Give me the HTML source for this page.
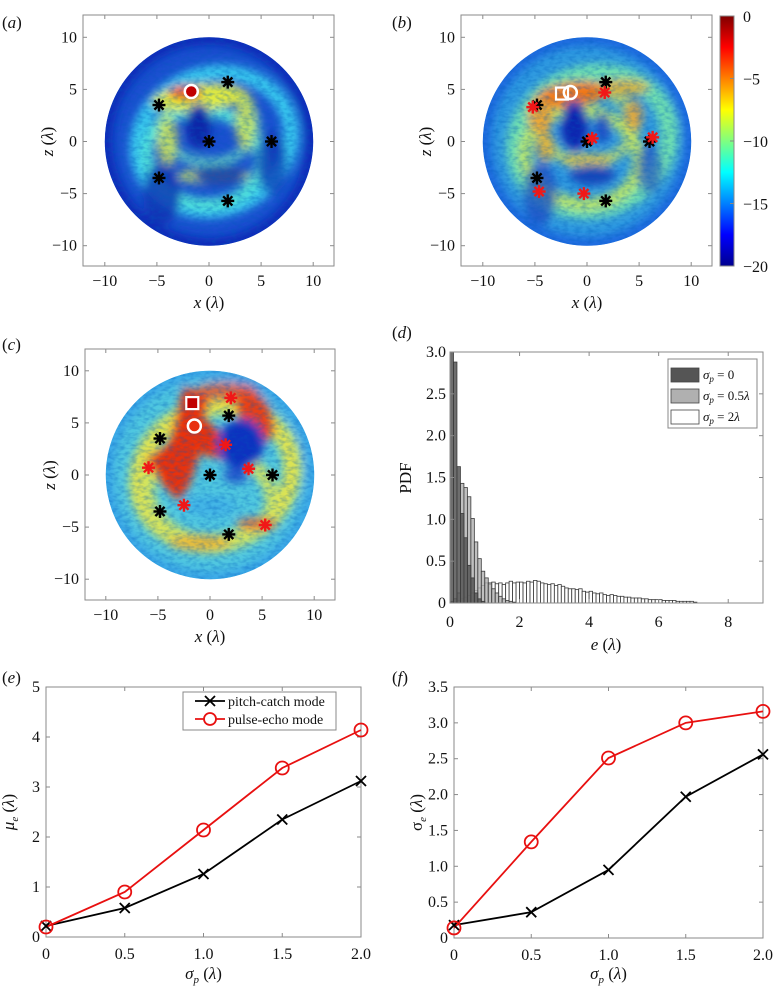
<!DOCTYPE html>
<html><head><meta charset="utf-8">
<style>
html,body{margin:0;padding:0;background:#fff;}
svg{display:block;font-family:"Liberation Serif",serif;}
</style></head>
<body>
<svg id="fig" width="780" height="994" viewBox="0 0 780 994" xmlns="http://www.w3.org/2000/svg">
<defs>
<filter id="blur" x="-20%" y="-20%" width="140%" height="140%"><feGaussianBlur stdDeviation="4.5"/></filter>
<filter id="noise" x="0" y="0" width="100%" height="100%">
<feTurbulence type="fractalNoise" baseFrequency="0.16 0.3" numOctaves="2" seed="3"/>
<feColorMatrix type="matrix" values="0 0 0 0 0  0 0 0 0 0.1  0 0 0 0 0.5  0 0 0 -2.2 1.35"/>
</filter>
<linearGradient id="jet" x1="0" y1="1" x2="0" y2="0">
<stop offset="0" stop-color="#00008f"/><stop offset="0.125" stop-color="#0000ff"/>
<stop offset="0.375" stop-color="#00ffff"/><stop offset="0.625" stop-color="#ffff00"/>
<stop offset="0.875" stop-color="#ff0000"/><stop offset="1" stop-color="#800000"/>
</linearGradient>
</defs>
</svg>
<script>
// ---------- data ----------
const heatTicks = [-10, -5, 0, 5, 10];
const receiversX = [1.8, -4.8, 0, 6, -4.8, 1.8];
const receiversZ = [5.7, 3.5, 0, 0, -3.5, -5.7];
const redBX = [1.7, -5.2, 0.5, 6.3, -4.6, -0.3];
const redBZ = [4.7, 3.3, 0.3, 0.4, -4.8, -5.0];
const redCX = [2.0, 1.5, -5.9, 3.7, -2.5, 5.3];
const redCZ = [7.4, 2.9, 0.7, 0.6, -2.9, -4.8];
const cbTicks = [0, -5, -10, -15, -20];

const binWidth = 0.1;
const pdfSigma0 = [3.0, 2.88, 1.63, 1.07, 0.78, 0.45, 0.3, 0.12, 0.05, 0.02];
const pdfSigma05 = [0.02, 0.05, 0.12, 1.43, 1.38, 1.27, 1.01, 0.73, 0.53, 0.38, 0.3, 0.24, 0.17, 0.12, 0.08, 0.05, 0.03, 0.02, 0.01];
const pdfSigma2 = [0.01,0.02,0.03,0.05,0.07,0.09,0.12,0.15,0.18,0.21,
 0.24,0.22,0.25,0.23,0.24,0.22,0.24,0.26,0.24,0.25,
 0.25,0.24,0.26,0.25,0.27,0.26,0.24,0.23,0.22,0.23,
 0.21,0.22,0.20,0.18,0.17,0.17,0.16,0.17,0.14,0.13,
 0.14,0.12,0.11,0.12,0.10,0.09,0.10,0.09,0.08,0.08,
 0.07,0.07,0.06,0.06,0.06,0.05,0.05,0.04,0.04,0.04,
 0.04,0.03,0.03,0.03,0.03,0.02,0.02,0.02,0.02,0.02,0.01];
const pdfXTicks = [0, 2, 4, 6, 8];
const pdfYTicks = [0, 0.5, 1.0, 1.5, 2.0, 2.5, 3.0];
const pdfYLabels = ["0","0.5","1.0","1.5","2.0","2.5","3.0"];

const sigmaP = [0, 0.5, 1.0, 1.5, 2.0];
const sigmaPLabels = ["0","0.5","1.0","1.5","2.0"];
const muPitch = [0.22, 0.58, 1.26, 2.35, 3.12];
const muPulse = [0.20, 0.90, 2.14, 3.38, 4.14];
const muTicks = [0, 1, 2, 3, 4, 5];
const sdPitch = [0.18, 0.36, 0.95, 1.97, 2.56];
const sdPulse = [0.14, 1.34, 2.51, 3.00, 3.16];
const sdTicks = [0, 0.5, 1.0, 1.5, 2.0, 2.5, 3.0, 3.5];
const sdLabels = ["0","0.5","1.0","1.5","2.0","2.5","3.0","3.5"];

// ---------- helpers ----------
const NS = "http://www.w3.org/2000/svg";
const svg = document.getElementById("fig");
function mk(tag, attrs, parent) {
  const e = document.createElementNS(NS, tag);
  for (const k in attrs) e.setAttribute(k, attrs[k]);
  (parent || svg).appendChild(e);
  return e;
}
function txt(x, y, s, size, anchor, parent, extra) {
  const t = mk("text", Object.assign({x: x, y: y, "font-size": size, "text-anchor": anchor || "middle", fill: "#111"}, extra || {}), parent);
  t.innerHTML = s;
  return t;
}
function lin(d0, d1, r0, r1) { return v => r0 + (v - d0) * (r1 - r0) / (d1 - d0); }

function frame(g, x0, y0, x1, y1) {
  const r = mk("rect", {x: x0, y: y0, width: x1 - x0, height: y1 - y0, fill: "none", stroke: "#8a8a8a", "stroke-width": 1}, g);
  
  
}
function xTicks(g, sx, vals, labels, y0, y1, ly) {
  vals.forEach((v, i) => {
    const x = sx(v);
    mk("line", {x1: x, x2: x, y1: y1, y2: y1 - 4, stroke: "#8a8a8a"}, g);
    mk("line", {x1: x, x2: x, y1: y0, y2: y0 + 4, stroke: "#8a8a8a"}, g);
    const t = txt(x, ly, labels[i], 16, "middle", g);
    
    
  });
}
function yTicks(g, sy, vals, labels, x0, x1, lx) {
  vals.forEach((v, i) => {
    const y = sy(v);
    mk("line", {x1: x0, x2: x0 + 4, y1: y, y2: y, stroke: "#8a8a8a"}, g);
    mk("line", {x1: x1, x2: x1 - 4, y1: y, y2: y, stroke: "#8a8a8a"}, g);
    const t = txt(lx, y + 5, labels[i], 16, "end", g);
    
    
  });
}
function asterisk(g, x, y, color, name) {
  const a = mk("g", {}, g);
  
  
  for (let k = 0; k < 4; k++) {
    const ang = k * Math.PI / 4, L = 6.5;
    mk("line", {x1: x - L * Math.cos(ang), y1: y - L * Math.sin(ang), x2: x + L * Math.cos(ang), y2: y + L * Math.sin(ang), stroke: color, "stroke-width": 2.4}, a);
  }
}
function panelLabel(x, y, letter, name) {
  const t = txt(x, y, "(<tspan font-style='italic'>" + letter + "</tspan>)", 17, "start");
  
  
}

// ---------- heatmap panel ----------
function heatPanel(id, box, cx, cy, feats, base, reds, src) {
  const g = mk("g", {});
  
  
  const s = 10.42;
  const sx = v => cx + v * s, sy = v => cy - v * s;
  const clip = mk("clipPath", {id: "clip" + id}, svg.querySelector("defs"));
  mk("circle", {cx: cx, cy: cy, r: 10 * s}, clip);
  const field = mk("g", {"clip-path": "url(#clip" + id + ")"}, g);
  
  
  mk("circle", {cx: cx, cy: cy, r: 10 * s, fill: base}, field);
  const fg = mk("g", {filter: "url(#blur)"}, field);
  feats.forEach(f => {
    if (f.t === "e") mk("ellipse", {cx: sx(f.x), cy: sy(f.z), rx: f.rx * s, ry: f.ry * s, fill: f.fill || "none", stroke: f.stroke || "none", "stroke-width": (f.w || 0) * s, transform: "rotate(" + (f.rot || 0) + " " + sx(f.x) + " " + sy(f.z) + ")", opacity: f.op || 1}, fg);
    else if (f.t === "p") mk("polygon", {points: f.pts.map((p, i) => i % 2 ? sy(p) : sx(p)).reduce((a, v, i) => a + (i % 2 ? "," : " ") + v, ""), fill: f.fill, opacity: f.op || 1}, fg);
  });
  mk("rect", {x: cx - 10 * s, y: cy - 10 * s, width: 20 * s, height: 20 * s, filter: "url(#noise)", opacity: 0.35}, field);
  frame(g, box[0], box[1], box[2], box[3]);
  xTicks(g, sx, heatTicks, ["\u221210", "\u22125", "0", "5", "10"], box[1], box[3], box[3] + 20);
  yTicks(g, sy, heatTicks, ["\u221210", "\u22125", "0", "5", "10"], box[0], box[2], box[0] - 6);
  const xl = txt(cx, box[3] + 42, "<tspan font-style='italic'>x</tspan> (<tspan font-style='italic'>\u03bb</tspan>)", 17, "middle", g);
  
  
  const yl = txt(0, 0, "<tspan font-style='italic'>z</tspan> (<tspan font-style='italic'>\u03bb</tspan>)", 17, "middle", g, {transform: "translate(" + (box[0] - 30) + "," + cy + ") rotate(-90)"});
  
  
  receiversX.forEach((v, i) => asterisk(g, sx(v), sy(receiversZ[i]), "#000", "receiver-marker"));
  if (reds) reds[0].forEach((v, i) => asterisk(g, sx(v), sy(reds[1][i]), "#f01818", "estimated-receiver-marker"));
  src.forEach(m => {
    let e;
    if (m.k === "o") e = mk("circle", {cx: sx(m.x), cy: sy(m.z), r: 6.5, fill: m.fill || "none", stroke: "#fff", "stroke-width": 2.5}, g);
    else e = mk("rect", {x: sx(m.x) - 6, y: sy(m.z) - 6, width: 12, height: 12, fill: m.fill || "none", stroke: "#fff", "stroke-width": 2.2}, g);
    
    
  });
  return g;
}

// (a)
heatPanel("a", [83, 15, 334, 266], 209, 141.5, [
  {t:"e", x:0, z:0, rx:10, ry:10, stroke:"#0a2cb8", w:1.5},
  {t:"e", x:0.5, z:0, rx:7.5, ry:6.5, stroke:"#38c8ee", w:1.5, rot:-20},
  {t:"e", x:-0.5, z:-1.5, rx:5.5, ry:4.5, stroke:"#50e0d8", w:1.2, rot:10},
  {t:"e", x:0, z:1.5, rx:4.5, ry:3.5, stroke:"#6ae0c0", w:0.9, op:0.8},
  {t:"e", x:-1, z:4.2, rx:4.5, ry:1.3, fill:"#e0ea40", rot:-5},
  {t:"e", x:3.5, z:2, rx:1.0, ry:2.8, fill:"#d8e850", op:0.8},
  {t:"e", x:-4, z:0, rx:1.0, ry:2.5, fill:"#d8e850", op:0.8},
  {t:"e", x:0.5, z:-3.3, rx:3.5, ry:0.8, fill:"#d8ee50", op:0.8},
  {t:"e", x:-2.3, z:4.7, rx:1.6, ry:0.7, fill:"#f05a10"},
  {t:"e", x:-1, z:1.5, rx:1.2, ry:2.2, fill:"#0a28a8"},
  {t:"e", x:1, z:-3.2, rx:2.5, ry:1.0, fill:"#0a30b0", op:0.8},
  {t:"e", x:-4.5, z:-5, rx:1.8, ry:3, fill:"#0a30b0", op:0.8},
  {t:"e", x:6, z:-2, rx:1.5, ry:3, fill:"#0a30b0", op:0.7}
], "#1a50d0", null, [{k:"o", x:-1.7, z:4.8, fill:"#c00000"}]);

// (b)
heatPanel("b", [461, 15, 712, 266], 587, 141.5, [
  {t:"e", x:0, z:0, rx:10, ry:10, stroke:"#1a6ae0", w:1.6},
  {t:"e", x:0.5, z:0, rx:7.5, ry:6.5, stroke:"#70e0b0", w:1.7, rot:-20},
  {t:"e", x:-0.5, z:-1.5, rx:5.5, ry:4.5, stroke:"#b8e468", w:1.2, rot:10},
  {t:"e", x:0, z:1.5, rx:4.5, ry:3.5, stroke:"#c8e460", w:1.0, op:0.8},
  {t:"e", x:-1.5, z:4.5, rx:3.5, ry:1.2, fill:"#f07818", rot:-8},
  {t:"e", x:3.5, z:5.2, rx:2.5, ry:0.8, fill:"#f0b020", op:0.8},
  {t:"e", x:-4.5, z:2.5, rx:1.2, ry:1.8, fill:"#f0a030", op:0.9},
  {t:"e", x:-4, z:-0.5, rx:0.9, ry:1.5, fill:"#f0b030", op:0.8},
  {t:"e", x:4.5, z:2.5, rx:0.9, ry:1.5, fill:"#f0a030", op:0.8},
  {t:"e", x:0, z:-1.8, rx:2.5, ry:0.7, fill:"#f0c030", op:0.7},
  {t:"e", x:-1.2, z:1.5, rx:1.3, ry:2.4, fill:"#0a28b0"},
  {t:"e", x:1.5, z:1.3, rx:0.8, ry:1.5, fill:"#1a40c0", op:0.8},
  {t:"e", x:0.5, z:-3.2, rx:2.2, ry:1.0, fill:"#0a30b0", op:0.8},
  {t:"e", x:-4.5, z:-5, rx:1.6, ry:3, fill:"#1a40c0", op:0.7},
  {t:"e", x:6, z:-2.5, rx:1.2, ry:2.5, fill:"#1a40c0", op:0.6}
], "#2f9ae0", [redBX, redBZ], [{k:"s", x:-2.4, z:4.6}, {k:"o", x:-1.6, z:4.7}]);

// (c)
heatPanel("c", [85, 349, 335, 600], 210, 475, [
  {t:"e", x:0, z:0, rx:10, ry:10, stroke:"#3aa8e8", w:1.5},
  {t:"e", x:0.5, z:0, rx:7.5, ry:6.5, stroke:"#e0e450", w:1.7, rot:-20},
  {t:"e", x:0, z:-2, rx:6, ry:4.5, stroke:"#d0e460", w:1.3, rot:10},
  {t:"e", x:-1, z:-6.5, rx:3, ry:0.8, fill:"#f0b030", op:0.8},
  {t:"p", pts:[-2.5,8.5, 0,7.5, -0.5,5.5, 1.5,3.5, 1.5,1.5, -1,2, -2,-1, -3,-2.5, -4.5,-1, -6.2,1.5, -4,3], fill:"#e83010"},
  {t:"e", x:4.3, z:5.8, rx:1.5, ry:2.8, fill:"#e84018", rot:-30},
  {t:"e", x:1.5, z:8, rx:3, ry:0.9, fill:"#f05020", op:0.8},
  {t:"e", x:3, z:3, rx:2.2, ry:2.4, fill:"#0a30c0"},
  {t:"e", x:2.5, z:0, rx:1.2, ry:0.8, fill:"#1a40c8", op:0.8},
  {t:"e", x:0, z:-3, rx:2.5, ry:1.0, fill:"#40b0e8", op:0.8},
  {t:"e", x:4.5, z:-4.7, rx:2, ry:0.6, fill:"#f05820", op:0.8}
], "#50c8e0", [redCX, redCZ], [{k:"s", x:-1.7, z:6.9, fill:"#c00000"}, {k:"o", x:-1.5, z:4.7, fill:"#e83010"}]);

panelLabel(2, 28, "a", "panel-label-a");
panelLabel(392, 28, "b", "panel-label-b");
panelLabel(2, 350, "c", "panel-label-c");
panelLabel(392, 338, "d", "panel-label-d");
panelLabel(2, 683, "e", "panel-label-e");
panelLabel(392, 683, "f", "panel-label-f");

// colorbar
(function () {
  const g = mk("g", {});
  
  
  mk("rect", {x: 720, y: 16, width: 14, height: 250, fill: "url(#jet)", stroke: "#888"}, g);
  const sy = lin(0, -20, 16, 266);
  cbTicks.forEach(v => {
    mk("line", {x1: 730, x2: 734, y1: sy(v), y2: sy(v), stroke: "#888"}, g);
    const t = txt(743, sy(v) + 6, v < 0 ? "\u2212" + (-v) : "0", 16, "start", g);
    
    
  });
})();

// (d) histogram
(function () {
  const g = mk("g", {});
  
  
  const x0 = 450, x1 = 763, y0 = 352, y1 = 603;
  const sx = lin(0, 9, x0, x1), sy = lin(0, 3, y1, y0);
  const clip = mk("clipPath", {id: "clipd"}, svg.querySelector("defs"));
  mk("rect", {x: x0, y: y0, width: x1 - x0, height: y1 - y0}, clip);
  const bars = mk("g", {"clip-path": "url(#clipd)"}, g);
  function series(vals, fill, op, name) {
    vals.forEach((v, i) => {
      const b = mk("rect", {x: sx(i * binWidth), y: sy(v), width: sx(binWidth) - sx(0), height: sy(0) - sy(v), fill: fill, "fill-opacity": op, stroke: "#3a3a3a", "stroke-width": 0.8}, bars);
      
      
    });
  }
  series(pdfSigma2, "#ffffff", 0.6, "bar-sigma-2");
  series(pdfSigma05, "#b0b0b0", 0.8, "bar-sigma-0-5");
  series(pdfSigma0, "#555555", 0.85, "bar-sigma-0");
  frame(g, x0, y0, x1, y1);
  xTicks(g, sx, pdfXTicks, pdfXTicks.map(String), y0, y1, 627);
  yTicks(g, sy, pdfYTicks, pdfYLabels, x0, x1, 446);
  const xl = txt(606, 650, "<tspan font-style='italic'>e</tspan> (<tspan font-style='italic'>\u03bb</tspan>)", 17, "middle", g);
  
  
  const yl = txt(0, 0, "PDF", 17, "middle", g, {transform: "translate(411,478) rotate(-90)"});
  
  
  const lg = mk("g", {}, g);
  
  
  mk("rect", {x: 668, y: 359, width: 89, height: 69, fill: "#fff", stroke: "#888"}, lg);
  const ent = [["#555555", "0"], ["#b0b0b0", "0.5<tspan font-style='italic'>\u03bb</tspan>"], ["#ffffff", "2<tspan font-style='italic'>\u03bb</tspan>"]];
  ent.forEach((e, i) => {
    const y = 368 + i * 21;
    const en = mk("g", {}, lg);
    
    
    mk("rect", {x: 671, y: y, width: 28, height: 14, fill: e[0], stroke: "#444", "stroke-width": 0.8}, en);
    txt(703, y + 11, "<tspan font-style='italic'>\u03c3</tspan><tspan font-size='9' dy='3' font-style='italic'>p</tspan><tspan dy='-3'> = " + e[1] + "</tspan>", 13, "start", en);
  });
})();

// (e),(f) line charts
function linePanel(id, box, ymax, yt, ylab, pitch, pulse, ytitle, legend) {
  const g = mk("g", {});
  
  
  const [x0, y0, x1, y1] = box;
  const sx = lin(0, 2, x0, x1), sy = lin(0, ymax, y1, y0);
  frame(g, x0, y0, x1, y1);
  xTicks(g, sx, sigmaP, sigmaPLabels, y0, y1, y1 + 22);
  yTicks(g, sy, yt, ylab, x0, x1, x0 - 6);
  function path(vals, color, name) {
    const p = mk("polyline", {points: vals.map((v, i) => sx(sigmaP[i]) + "," + sy(v)).join(" "), fill: "none", stroke: color, "stroke-width": 1.8}, g);
    
    
  }
  path(pitch, "#000", "pitch-catch-line");
  path(pulse, "#e81010", "pulse-echo-line");
  pitch.forEach((v, i) => {
    const x = sx(sigmaP[i]), y = sy(v);
    const m = mk("path", {d: `M${x-5},${y-5}L${x+5},${y+5}M${x-5},${y+5}L${x+5},${y-5}`, stroke: "#000", "stroke-width": 1.8}, g);
    
    
  });
  pulse.forEach((v, i) => {
    const c = mk("circle", {cx: sx(sigmaP[i]), cy: sy(v), r: 6.5, fill: "none", stroke: "#e81010", "stroke-width": 1.8}, g);
    
    
  });
  const xl = txt((x0 + x1) / 2, 979, "<tspan font-style='italic'>\u03c3</tspan><tspan font-size='11' dy='4' font-style='italic'>p</tspan><tspan dy='-4'> (</tspan><tspan font-style='italic'>\u03bb</tspan>)", 17, "middle", g);
  
  
  const yl = txt(0, 0, ytitle, 17, "middle", g, {transform: "translate(" + (x0 - 32) + "," + ((y0 + y1) / 2) + ") rotate(-90)"});
  
  
  if (legend) {
    const lg = mk("g", {}, g);
    
    
    mk("rect", {x: 183, y: 692, width: 153, height: 38, fill: "#fff", stroke: "#888"}, lg);
    const e1 = mk("g", {}, lg);
    
    
    mk("line", {x1: 195, x2: 225, y1: 701, y2: 701, stroke: "#000", "stroke-width": 1.8}, e1);
    mk("path", {d: "M205,696L215,706M205,706L215,696", stroke: "#000", "stroke-width": 1.8}, e1);
    txt(228, 706, "pitch-catch mode", 14, "start", e1);
    const e2 = mk("g", {}, lg);
    
    
    mk("line", {x1: 195, x2: 225, y1: 719, y2: 719, stroke: "#e81010", "stroke-width": 1.8}, e2);
    mk("circle", {cx: 210, cy: 719, r: 6, fill: "#fff", stroke: "#e81010", "stroke-width": 1.8}, e2);
    txt(228, 724, "pulse-echo mode", 14, "start", e2);
  }
}
linePanel("e", [46, 687, 361, 937], 5, muTicks, muTicks.map(String), muPitch, muPulse,
  "<tspan font-style='italic'>\u03bc</tspan><tspan font-size='11' dy='4' font-style='italic'>e</tspan><tspan dy='-4'> (</tspan><tspan font-style='italic'>\u03bb</tspan>)", true);
linePanel("f", [454, 687, 763, 938], 3.5, sdTicks, sdLabels, sdPitch, sdPulse,
  "\u03c3<tspan font-size='11' dy='4' font-style='italic'>e</tspan><tspan dy='-4'> (</tspan><tspan font-style='italic'>\u03bb</tspan>)", false);
</script>
</body></html>
